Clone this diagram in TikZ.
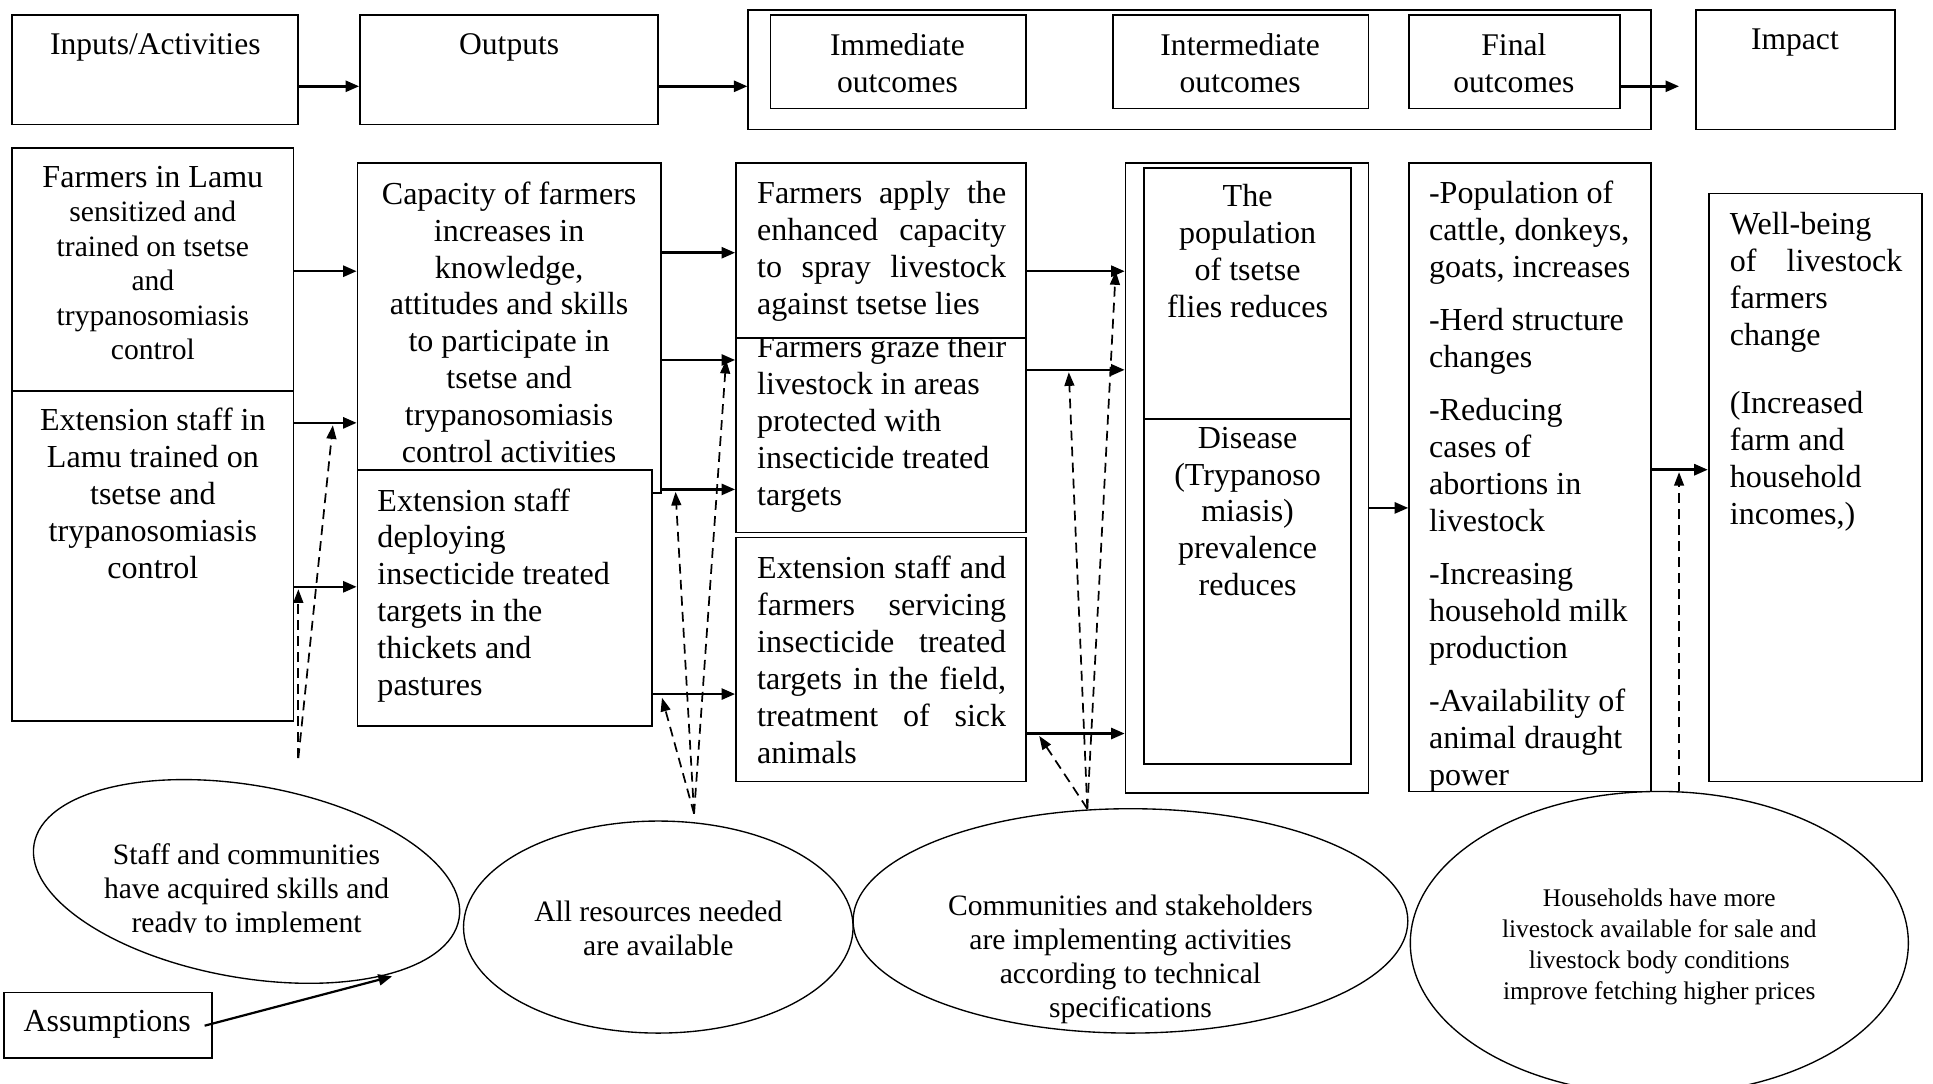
\documentclass[tikz,border=0pt]{standalone}
\usepackage{fontspec}
\setmainfont{Liberation Serif}
\usetikzlibrary{arrows.meta,shapes.geometric,fit}
\newcommand\fbody{\fontsize{26}{30}\selectfont}
\newcommand\fbodys{\fontsize{24}{28}\selectfont}
\newcommand\fhead{\fontsize{25.6}{30}\selectfont}
\newcommand\fell{\fontsize{24}{27.5}\selectfont}
\newcommand\fsmall{\fontsize{20.6}{25}\selectfont}
\tikzset{
  bx/.style={draw, line width=1.4pt, fill=white, inner sep=0pt},
  arr/.style={line width=2pt, -{Triangle[length=11pt,width=9pt]}},
  darr/.style={line width=1.4pt, dash pattern=on 8pt off 5pt, -{Triangle[length=11pt,width=8pt]}},
  ell/.style={draw, ellipse, line width=1.1pt, inner sep=0pt},
  txt/.style={inner sep=0pt, anchor=north, align=center},
  ltxt/.style={inner sep=0pt, anchor=north west, align=left}
}
\begin{document}
\begin{tikzpicture}[x=1pt,y=-1pt]
\useasboundingbox (0,0) rectangle (1568,879);
% y levels
\foreach \v in {70,205,220,292,300,343,381,397,412,476,563,595}{\coordinate (y\v) at (0,\v);}
% ---------- top row ----------
\node[bx, fit={(10,12)(242,101)}] (inp) {};
\node[txt, font=\fhead] (inpT) at (126,27) {Inputs/Activities};
\node[bx, fit={(292,12)(534,101)}] (out) {};
\node[txt, font=\fhead] (outT) at (413,27) {Outputs};
\node[bx, fit={(607,8)(1339,105)}] (outc) {};
\node[bx, fit={(625,12)(832,88)}] (imm) {};
\node[txt, font=\fhead] (immT) at (728,27) {Immediate\\outcomes};
\node[bx, fit={(903,12)(1110,88)}] (intm) {};
\node[txt, font=\fhead] (intT) at (1006,27) {Intermediate\\outcomes};
\node[bx, fit={(1143,12)(1314,88)}] (fino) {};
\node[txt, font=\fhead] (finoT) at (1228,27) {Final\\outcomes};
\node[bx, fit={(1376,8)(1537,105)}] (impo) {};
\node[txt, font=\fhead] (impoT) at (1456,23) {Impact};
\coordinate (impTip) at (1362,70);
\draw[arr] (inp.east |- y70) -- (out.west |- y70);
\draw[arr] (out.east |- y70) -- (outc.west |- y70);
\draw[arr] (fino.east |- y70) -- (impTip);
% ---------- boxes ----------
\node[bx, fit={(10,120)(238,317)}] (farm) {};
\node[txt, font=\fbodys] (farmT) at (124,134.5) {{\fontsize{26}{30}\selectfont Farmers in Lamu}\\sensitized and\\trained on tsetse\\and\\trypanosomiasis\\control};
\node[bx, fit={(10,317)(238,585)}] (ext) {};
\node[txt, font=\fbody] (extT) at (124,331) {Extension staff in\\Lamu trained on\\tsetse and\\trypanosomiasis\\control};
\node[bx, fit={(290,132)(536,400)}] (cap) {};
\node[txt, font=\fbody] (capT) at (413,147) {Capacity of farmers\\increases in\\knowledge,\\attitudes and skills\\to participate in\\tsetse and\\trypanosomiasis\\control activities};
\node[bx, fit={(290,381)(529,589)}] (dep) {};
\node[ltxt, font=\fbody] (depT) at (306,396) {Extension staff\\deploying\\insecticide treated\\targets in the\\thickets and\\pastures};
\node[bx, fit={(597,250)(832,432)}] (graze) {};
\node[ltxt, font=\fbody] (grazeT) at (614,272) {Farmers graze their\\livestock in areas\\protected with\\insecticide treated\\targets};
\node[bx, fit={(597,132)(832,274)}] (apply) {};
\node[ltxt, font=\fbody] (applyT) at (614,147) {\hbox to 202pt{Farmers\hfill apply\hfill the}\\\hbox to 202pt{enhanced\hfill capacity}\\\hbox to 202pt{to\hfill spray\hfill livestock}\\against tsetse lies};
\node[bx, fit={(597,436)(832,634)}] (serv) {};
\node[ltxt, font=\fbody] (servT) at (614,451) {\hbox to 202pt{Extension\hfill staff\hfill and}\\\hbox to 202pt{farmers\hfill servicing}\\\hbox to 202pt{insecticide\hfill treated}\\\hbox to 202pt{targets\hfill in\hfill the\hfill field,}\\\hbox to 202pt{treatment\hfill of\hfill sick}\\animals};
\node[bx, fit={(913,132)(1110,643)}] (inter) {};
\node[bx, fit={(928,136)(1096,340)}] (pop) {};
\node[txt, font=\fbody] (popT) at (1012,149) {The\\population\\of tsetse\\flies reduces};
\node[bx, fit={(928,340)(1096,620)}] (dis) {};
\node[txt, font=\fbody] (disT) at (1012,346) {Disease\\(Trypanoso\\miasis)\\prevalence\\reduces};
\node[bx, fit={(1143,132)(1339,642)}] (fin) {};
\begin{scope}
\clip (1143,132) rectangle (1339,641);
\node[ltxt, font=\fbody] (finT) at (1159,146.5) {-Population of\\cattle, donkeys,\\goats, increases\\[13pt]-Herd structure\\changes\\[13pt]-Reducing\\cases of\\abortions in\\livestock\\[13pt]-Increasing\\household milk\\production\\[13pt]-Availability of\\animal draught\\power};
\end{scope}
\node[bx, fit={(1386,157)(1559,634)}] (imp) {};
\node[ltxt, font=\fbody] (impT) at (1403,172) {Well-being\\\hbox to 140pt{of\hfill livestock}\\farmers\\change\\[25pt](Increased\\farm and\\household\\incomes,)};
\node[bx, fit={(3,805)(172,858)}] (asm) {};
\node[font=\fbody, inner sep=0pt] (asmT) at (87,831) {Assumptions};
% ---------- ellipses ----------
\node[ell, minimum width=350pt, minimum height=156pt, rotate=-10] (e1) at (200,715) {};
\begin{scope}
\clip (0,600) rectangle (1568,756);
\node[font=\fell, align=center, inner sep=0pt] (e1T) at (200,723) {Staff and communities\\have acquired skills and\\ready to implement};
\end{scope}
\node[ell, minimum width=316pt, minimum height=172pt] (e2) at (534,752) {};
\node[font=\fell, align=center, inner sep=0pt] (e2T) at (534,753) {All resources needed\\are available};
\node[ell, minimum width=450pt, minimum height=182pt] (e3) at (917,747) {};
\node[font=\fell, align=center, inner sep=0pt] (e3T) at (917,778) {Communities and stakeholders\\are implementing activities\\according to technical\\specifications};
\node[ell, minimum width=404pt, minimum height=246pt] (e4) at (1346,765) {};
\node[font=\fsmall, align=center, inner sep=0pt] (e4T) at (1346,768) {Households have more\\livestock available for sale and\\livestock body conditions\\improve fetching higher prices};
% ---------- solid arrows ----------
\draw[arr] (farm.east |- y220) -- (cap.west |- y220);
\draw[arr] (ext.east |- y343) -- (cap.west |- y343);
\draw[arr] (ext.east |- y476) -- (dep.west |- y476);
\draw[arr] (cap.east |- y205) -- (apply.west |- y205);
\draw[arr] (cap.east |- y292) -- (graze.west |- y292);
\draw[arr] (cap.east |- y397) -- (graze.west |- y397);
\draw[arr] (dep.east |- y563) -- (serv.west |- y563);
\draw[arr] (apply.east |- y220) -- (inter.west |- y220);
\draw[arr] (graze.east |- y300) -- (inter.west |- y300);
\draw[arr] (serv.east |- y595) -- (inter.west |- y595);
\draw[arr] (inter.east |- y412) -- (fin.west |- y412);
\draw[arr] (fin.east |- y381) -- (imp.west |- y381);
\coordinate (asmStart) at (166,832);
\coordinate (asmTip) at (318,792);
\draw[arr, line width=1.8pt] (asmStart) -- (asmTip);
% ---------- dashed arrows ----------
\coordinate (d1) at (242,615);
\coordinate (d2) at (563,660);
\coordinate (d3) at (882,656);
\coordinate (d4) at (1362,642);
\coordinate (t1a) at (242,478);
\coordinate (t1b) at (270,345);
\coordinate (t2a) at (548,399);
\coordinate (t2b) at (589,292);
\coordinate (t2c) at (537,566);
\coordinate (t3a) at (843,597);
\coordinate (t3b) at (867,302);
\coordinate (t3c) at (905,220);
\coordinate (t4a) at (1362,383);
\draw[darr] (d1) -- (t1a);
\draw[darr] (d1) -- (t1b);
\draw[darr] (d2) -- (t2a);
\draw[darr] (d2) -- (t2b);
\draw[darr] (d2) -- (t2c);
\draw[darr] (d3) -- (t3a);
\draw[darr] (d3) -- (t3b);
\draw[darr] (d3) -- (t3c);
\draw[darr] (d4) -- (t4a);
\end{tikzpicture}
\end{document}
